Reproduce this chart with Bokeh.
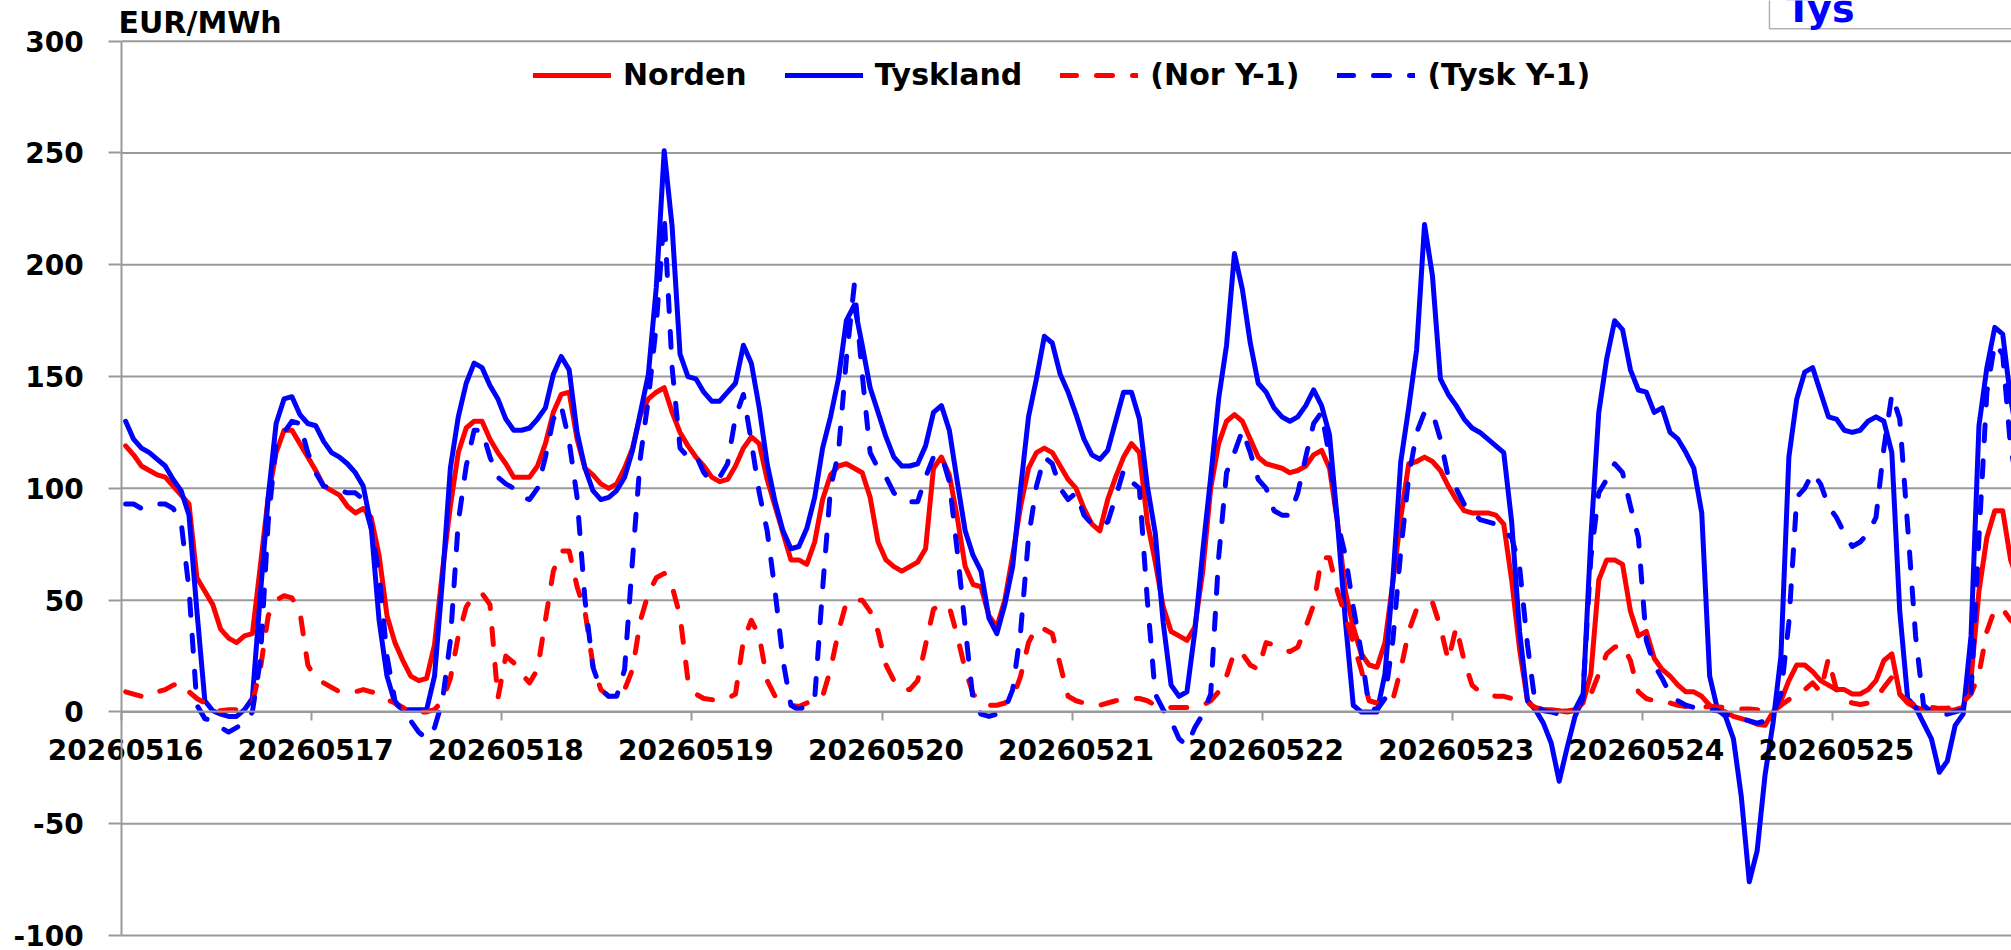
from bokeh.plotting import figure
from bokeh.models import (Range1d, LinearAxis, FixedTicker, Legend, LegendItem,
                          Label, BoxAnnotation, ColumnDataSource)
from bokeh.embed import file_html
from bokeh.resources import INLINE

# ---------------- data (hourly, EUR/MWh) ----------------
dates = ["20260516", "20260517", "20260518", "20260519", "20260520",
         "20260521", "20260522", "20260523", "20260524", "20260525"]

norden = [
    119, 115, 110, 108, 106, 105, 101, 97, 93, 60, 54, 48, 37, 33, 31, 34, 35, 65, 96, 116, 126, 126, 120, 114,
    108, 101, 99, 97, 92, 89, 91, 87, 70, 43, 31, 23, 16, 14, 15, 30, 63, 92, 116, 127, 130, 130, 122, 116,
    111, 105, 105, 105, 110, 120, 134, 142, 143, 122, 109, 106, 102, 100, 102, 109, 118, 133, 140, 143, 145, 134, 125, 119,
    114, 110, 105, 103, 104, 110, 118, 123, 120, 104, 92, 80, 68, 68, 66, 76, 95, 106, 110, 111, 109, 107, 96, 76,
    68, 65, 63, 65, 67, 73, 109, 114, 106, 87, 65, 57, 56, 43, 38, 50, 70, 92, 109, 116, 118, 116, 110, 104,
    100, 91, 84, 81, 95, 105, 114, 120, 116, 85, 67, 47, 36, 34, 32, 38, 63, 100, 120, 130, 133, 130, 122, 114,
    111, 110, 109, 107, 108, 110, 115, 117, 109, 85, 54, 38, 26, 21, 20, 31, 58, 87, 111, 112, 114, 112, 108, 101,
    95, 90, 89, 89, 89, 88, 84, 59, 28, 5, 1, 1, 1, 0.5, 0, 0.5, 4, 17, 59, 68, 68, 66, 45, 34,
    36, 24, 19, 16, 12, 9, 9, 7, 3, 1, 0, -2, -3, -4, -5.5, -6, 0, 5, 14, 21, 21, 18, 14, 12,
    10, 10, 8, 8, 10, 14, 23, 26, 8, 4, 2, 1, 1, 1, 0.5, 1, 2, 15, 54, 78, 90, 90, 68, 58,
]

tyskland = [
    130, 122, 118, 116, 113, 110, 104, 99, 88, 45, 5, 0.5, -1, -2, -2, 1, 6, 52, 96, 129, 140, 141, 133, 129,
    128, 121, 116, 114, 111, 107, 101, 83, 41, 16, 4, 1, 1, 1, 1, 16, 59, 109, 132, 147, 156, 154, 146, 140,
    131, 126, 126, 127, 131, 136, 151, 159, 153, 125, 109, 99, 95, 96, 99, 105, 117, 134, 151, 190, 251, 217, 160, 150,
    149, 143, 139, 139, 143, 147, 164, 156, 136, 111, 94, 81, 73, 74, 82, 96, 118, 132, 149, 175, 182, 164, 145, 134,
    123, 114, 110, 110, 111, 119, 134, 137, 126, 103, 81, 70, 63, 42, 35, 48, 65, 100, 132, 149, 168, 165, 151, 143,
    133, 122, 115, 113, 117, 130, 143, 143, 131, 101, 80, 40, 12, 7, 9, 36, 72, 105, 140, 164, 205, 189, 165, 147,
    143, 136, 132, 130, 132, 137, 144, 137, 124, 85, 41, 3, 0, 0, 0, 17, 59, 112, 136, 162, 218, 195, 149, 142,
    137, 131, 127, 125, 122, 119, 116, 85, 36, 5, 1, -5, -14, -31, -16, -2, 6, 78, 134, 158, 175, 171, 153, 144,
    143, 134, 136, 125, 122, 116, 109, 89, 16, 1, -2, -12, -38, -76, -62, -28, -5, 25, 114, 140, 152, 154, 143, 132,
    131, 126, 125, 126, 130, 132, 130, 116, 45, 6, 2, -5, -12, -27, -22, -6, -1, 34, 128, 154, 172, 169, 140, 120,
]

nor_y1 = [
    9, 8, 7, 7, 9, 10, 12, 13, 9, 6, 4, 1, 0.5, 1, 1, 2, 4, 19, 43, 50, 52, 51, 45, 21,
    15, 13, 11, 9, 9, 9, 10, 9, 8, 5.5, 4, 2, 0, 0, 0, 1, 5, 15, 34, 47, 52, 53, 48, 6,
    25, 22, 17, 13, 19, 41, 63, 72, 72, 56, 45, 21, 10, 7, 7, 10, 19, 41, 53, 60, 62, 56, 43, 14,
    8, 6, 5.5, 5.5, 6, 8, 32, 41, 34, 14, 7, 5, 3, 2.4, 4, 5, 7, 19, 36, 49, 50, 50, 45, 36,
    21, 14, 10, 10, 14, 30, 46, 48, 47, 34, 19, 8, 4, 3, 3, 4, 6, 16, 31, 38, 37, 35, 21, 7,
    5, 4, 3, 3, 4, 5, 5.5, 6, 6, 5, 3, 2.4, 2, 2, 2, 2.4, 3, 5, 9, 16, 27, 26, 21, 19,
    31, 30, 28, 27, 29, 38, 48, 69, 69, 54, 43, 31, 19, 5, 4, 5, 5.5, 19, 36, 46, 48, 49, 38, 23,
    38, 23, 12, 9, 8, 7, 7, 6, 5, 4, 2, 1, 0.5, 0.4, 0.4, 1, 5, 8, 17, 26, 29, 30, 23, 9,
    6, 5, 4, 4, 3, 2.4, 2.2, 2.2, 2.4, 2.2, 2, 1.3, 1.3, 1.3, 1, 0, 0, 3, 5.5, 8, 10, 13, 9, 24,
    10, 5.5, 4, 3.3, 4, 6, 11, 15.5, 8, 4.6, 3, 2.4, 2, 1.6, 1.6, 2.7, 4.6, 8, 17, 36, 46, 46, 41, 38,
]

tysk_y1 = [
    93, 93, 91, 92, 93, 93, 91, 85, 55, 3, -3, -4, -7, -9, -7, -5, 0, 23, 85, 120, 125, 130, 129, 116,
    107, 101, 100, 99, 98, 98, 95, 82, 62, 25, 5, 0, -4, -9, -12, -7, 5, 32, 85, 110, 126, 126, 114, 105,
    102, 100, 96, 95, 100, 114, 131, 137, 121, 96, 50, 20, 10, 7, 7, 19, 68, 114, 140, 173, 222, 154, 118, 114,
    115, 107, 103, 105, 111, 132, 142, 121, 98, 81, 54, 23, 3, 1, 3, 6, 55, 100, 116, 158, 191, 151, 116, 109,
    105, 98, 95, 94, 94, 105, 114, 115, 103, 72, 38, 5, -1, -2, -1, 1, 10, 36, 78, 101, 114, 111, 100, 95,
    98, 88, 84, 83, 85, 96, 108, 103, 100, 50, 8, 1, -4, -12, -15, -7, -1, 8, 69, 107, 116, 126, 116, 104,
    100, 90, 88, 88, 98, 114, 129, 134, 114, 85, 70, 47, 27, 2, 1, 6, 32, 72, 105, 125, 134, 134, 122, 105,
    100, 93, 90, 86, 85, 84, 81, 78, 65, 30, 3, 0.5, 0, -1, -1, 1, 8, 69, 98, 104, 111, 107, 92, 78,
    32, 21, 15, 8, 5, 3, 2, 1, 1, 0.5, -1, -2, -3, -4, -5, -4, -1, 8, 40, 96, 100, 107, 102, 92,
    87, 80, 74, 76, 80, 87, 118, 142, 131, 83, 34, 3, 0, -1, -1, 0, 1, 8, 78, 143, 165, 160, 118, 100,
]

y_ticks = [-100, -50, 0, 50, 100, 150, 200, 250, 300]
series_names = ["Norden", "Tyskland", "(Nor Y-1)", "(Tysk Y-1)"]
title_text = "EUR/MWh"
corner_text = "Tys"

# ---------------- figure ----------------
HOURS_PER_DAY = 24
n = len(norden)
hour_pos = [i + 0.5 for i in range(n)]  # centre of each hourly category
src = ColumnDataSource(dict(x=hour_pos, norden=norden, tyskland=tyskland,
                            nor_y1=nor_y1, tysk_y1=tysk_y1))

FONT = "DejaVu Sans"
GRID = "#9a9a9a"
RED = "#FF0000"
BLUE = "#0000FF"

W, H = 2011, 950
X_START, X_END = -15.30, 238.61
Y_BOTTOM, Y_TOP = -106.70, 318.20

p = figure(width=W, height=H, output_backend="svg", toolbar_location=None,
           x_range=Range1d(X_START, X_END), y_range=Range1d(Y_BOTTOM, Y_TOP),
           x_axis_location=None, y_axis_location=None,
           min_border_left=0, min_border_right=0,
           min_border_top=0, min_border_bottom=0)
p.outline_line_color = None
p.background_fill_color = "white"
p.border_fill_color = "white"
p.grid.visible = False

# horizontal grid lines (start at the value axis, run to the right edge)
n_ticks = len(y_ticks)
p.segment(x0=[0] * n_ticks, y0=y_ticks, x1=[X_END + 10] * n_ticks, y1=y_ticks,
          line_color=GRID, line_width=2)

# y axis located at x = 0
yax = LinearAxis(fixed_location=0, bounds=(y_ticks[0], y_ticks[-1]),
                 ticker=FixedTicker(ticks=y_ticks),
                 major_label_overrides={t: str(t) for t in y_ticks})
yax.axis_line_color = GRID
yax.axis_line_width = 2
yax.major_tick_line_color = GRID
yax.major_tick_line_width = 2
yax.major_tick_out = 13
yax.major_tick_in = 0
yax.minor_tick_line_color = None
yax.major_label_text_font = FONT
yax.major_label_text_font_style = "bold"
yax.major_label_text_font_size = "28px"
yax.major_label_text_color = "black"
yax.major_label_standoff = 25
p.add_layout(yax, "left")

# x axis crossing at 0
label_ticks = [HOURS_PER_DAY * k + 0.5 for k in range(len(dates))]
bound_ticks = [HOURS_PER_DAY * k for k in range(len(dates) + 1)]
xax = LinearAxis(fixed_location=0, bounds=(0, HOURS_PER_DAY * len(dates)),
                 ticker=FixedTicker(ticks=label_ticks, minor_ticks=bound_ticks),
                 major_label_overrides={t: d for t, d in zip(label_ticks, dates)})
xax.axis_line_color = GRID
xax.axis_line_width = 2
xax.major_tick_line_color = None
xax.major_tick_out = 9
xax.major_tick_in = 0
xax.minor_tick_line_color = GRID
xax.minor_tick_line_width = 2
xax.minor_tick_out = 9
xax.minor_tick_in = 0
xax.major_label_text_font = FONT
xax.major_label_text_font_style = "bold"
xax.major_label_text_font_size = "28px"
xax.major_label_text_color = "black"
xax.major_label_standoff = 18
p.add_layout(xax, "below")

# lines
LW = 5
common = dict(source=src, line_width=LW, line_join="round", line_cap="round")
r_nor = p.line("x", "norden", line_color=RED, **common)
r_tys = p.line("x", "tyskland", line_color=BLUE, **common)
r_nory = p.line("x", "nor_y1", line_color=RED, line_dash="16 20", **common)
r_tysy = p.line("x", "tysk_y1", line_color=BLUE, line_dash="16 20", **common)

legend = Legend(items=[LegendItem(label=series_names[0], renderers=[r_nor]),
                       LegendItem(label=series_names[1], renderers=[r_tys]),
                       LegendItem(label=series_names[2], renderers=[r_nory]),
                       LegendItem(label=series_names[3], renderers=[r_tysy])],
                orientation="horizontal", location=(533, 858),
                label_text_font=FONT, label_text_font_style="bold",
                label_text_font_size="30px", label_text_color="black",
                glyph_width=78, glyph_height=20, label_standoff=12,
                spacing=38, margin=0, padding=6,
                border_line_color=None, background_fill_alpha=0)
p.add_layout(legend)

# unit label above the plot area
p.add_layout(Label(x=-0.4, y=308.3, text=title_text, text_font=FONT,
                   text_font_style="bold", text_font_size="30px",
                   text_color="black", text_align="left",
                   text_baseline="alphabetic"))

# clipped box in the top right corner
p.add_layout(BoxAnnotation(left=208.05, right=300, bottom=305.55, top=340,
                           fill_color="white", fill_alpha=1.0,
                           line_color="black", line_width=1.5))
p.add_layout(Label(x=210.1, y=314.3, text=corner_text, text_font=FONT,
                   text_font_style="bold", text_font_size="38px",
                   text_color=BLUE, text_align="left",
                   text_baseline="alphabetic"))

open("out.html", "w").write(file_html(p, INLINE))
